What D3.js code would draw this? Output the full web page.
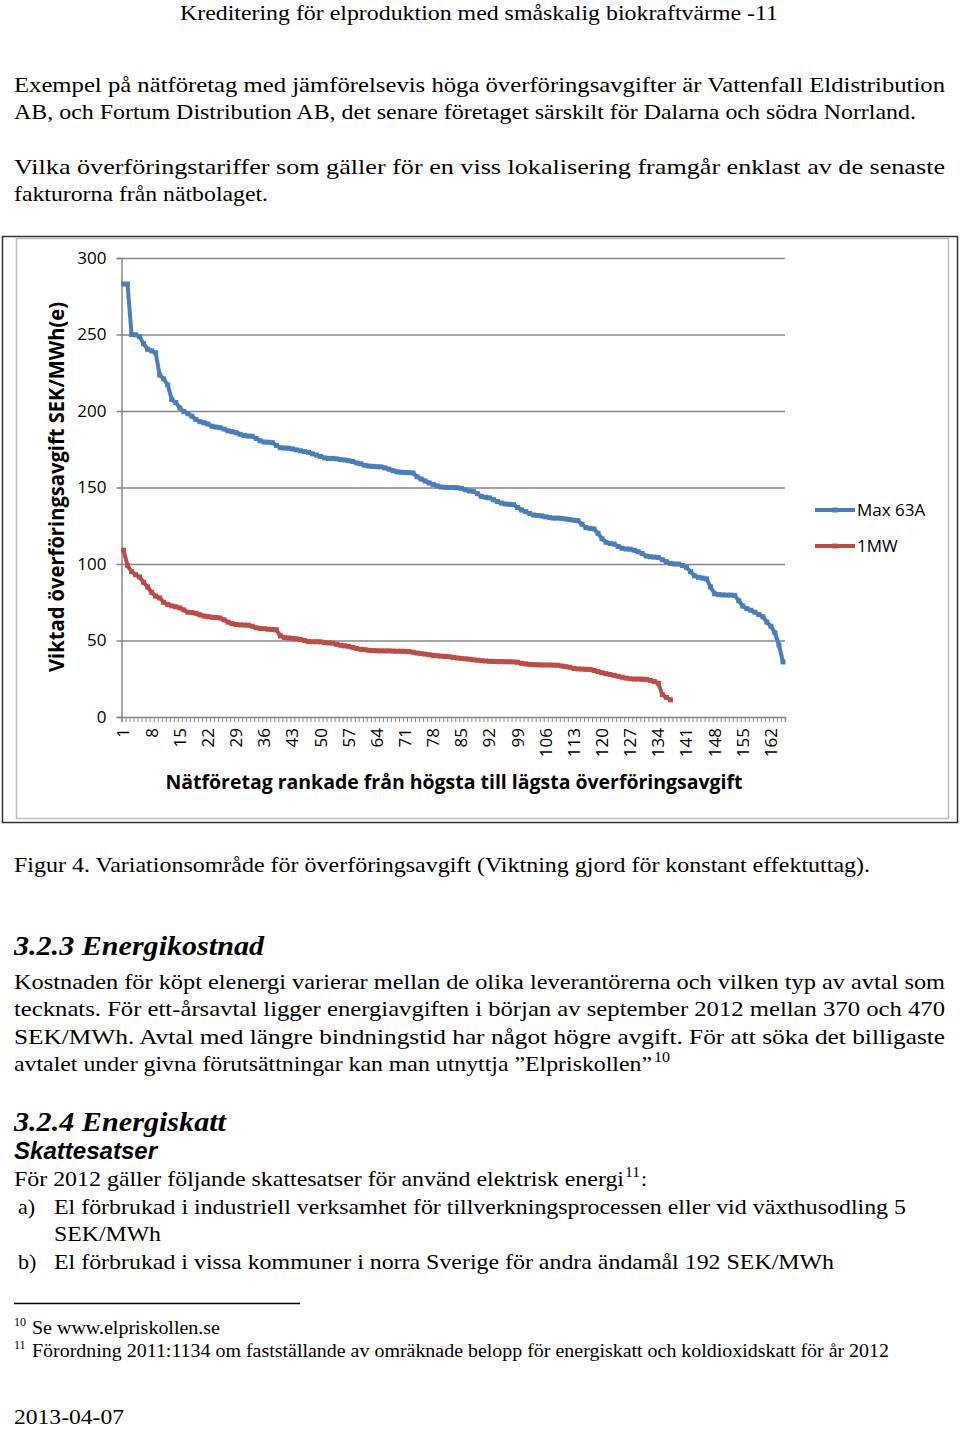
<!DOCTYPE html>
<html>
<head>
<meta charset="utf-8">
<script src="https://cdn.jsdelivr.net/npm/d3@7"></script>
<style>
  body { margin: 0; background: #fff; }
  svg { display: block; }
</style>
</head>
<body>
<svg id="page" width="960" height="1430"></svg>
<script>
// ranks of the grid companies (category axis)
const categories = d3.range(1, 166);
const xTickLabels = [1, 8, 15, 22, 29, 36, 43, 50, 57, 64, 71, 78, 85, 92, 99, 106, 113, 120, 127, 134, 141, 148, 155, 162];
const yTicks = [0, 50, 100, 150, 200, 250, 300];

// weighted transmission fee SEK/MWh(e)
const max63A = [
  283, 283, 250, 249.8, 248.5, 244, 240.3, 239.3, 238, 223.5,
  221, 217, 207.5, 205.5, 202, 199.7, 198.3, 196.6, 194.5, 193,
  192.3, 191.5, 190, 189.5, 189.1, 188.2, 187, 186.5, 185.8, 184.8,
  184, 183.6, 183.5, 182, 180.5, 179.7, 179.6, 179.3, 177.5, 176,
  175.8, 175.7, 175.2, 174.6, 174, 173.5, 173, 172, 171.2, 170.3,
  169.3, 169, 169, 168.7, 168.2, 168, 167.5, 167, 166, 165.5,
  164.5, 164, 163.8, 163.6, 163.5, 162.8, 162, 161, 160.3, 160,
  159.8, 159.7, 159.5, 157, 155.5, 154.3, 153, 152, 151, 150.3,
  150.1, 150, 150, 149.8, 149.5, 148.5, 147.8, 147.5, 146, 144.2,
  143.6, 143.2, 142, 140.8, 139.8, 139.2, 139, 138.8, 137, 135.3,
  134.2, 133, 132, 131.7, 131.4, 130.8, 130.3, 130, 130, 129.8,
  129.4, 129, 128.6, 128.3, 126, 123.8, 123.3, 122.9, 120, 116.5,
  114.2, 113.4, 113, 111.5, 110.3, 109.8, 109.7, 109, 108, 106.8,
  105.2, 104.7, 104.5, 104.2, 102.8, 101.5, 100.4, 100, 100, 99,
  97.8, 95, 92.3, 91.3, 90.8, 90.3, 85, 80.5, 80, 79.8,
  79.7, 79.7, 79.5, 76, 72.5, 70.8, 69.8, 68.5, 67, 65.5,
  62, 59.3, 55, 47, 36
];
const oneMW = [
  109, 99, 95, 93, 91.5, 88, 85, 81.5, 79, 77.8,
  75, 73.5, 72.6, 72, 71.3, 70, 68.5, 68.2, 67.8, 66.8,
  66, 65.6, 65.2, 65, 64.7, 63.5, 62, 61, 60.5, 60.2,
  60.1, 60, 59.3, 58.3, 57.9, 57.7, 57.4, 57.2, 57, 53,
  52, 51.7, 51.4, 51.1, 50.7, 50, 49.3, 49.2, 49.2, 49.1,
  48.6, 48.4, 48.3, 47.5, 46.9, 46.5, 46.2, 45.5, 44.8, 44.2,
  44, 43.6, 43.4, 43.3, 43.2, 43.2, 43.2, 43.1, 43, 43,
  42.9, 42.7, 42.3, 41.8, 41.4, 41.1, 40.7, 40.3, 40, 39.8,
  39.6, 39.4, 39, 38.6, 38.3, 38, 37.8, 37.4, 37.1, 36.8,
  36.6, 36.4, 36.3, 36.2, 36.2, 36.1, 36.1, 36, 35.8, 35.1,
  34.7, 34.4, 34.2, 34.1, 34, 34, 34, 33.9, 33.8, 33.3,
  32.9, 32.5, 31.7, 31.4, 31.3, 31.2, 31.1, 30.4, 29.6, 28.9,
  28.3, 27.8, 27.2, 26.6, 26, 25.4, 25, 24.8, 24.8, 24.7,
  24.6, 24, 23.2, 22, 14.6, 12.8, 11.2
];
const seriesNames = ["Max 63A", "1MW"];
const seriesColors = ["#4a7ebb", "#be4b48"];

const svg = d3.select("#page");
const serif = "'Liberation Serif', 'Times New Roman', Times, serif";
const sans = "'Open Sans', 'DejaVu Sans', sans-serif";

// ---------- page text ----------
function textLine(str, x, y, opts = {}) {
  const t = svg.append("text")
    .attr("x", x).attr("y", y)
    .style("font-family", opts.family || serif)
    .style("font-size", (opts.size || 22) + "px")
    .style("font-weight", opts.weight || "normal")
    .style("font-style", opts.style || "normal")
    .attr("text-anchor", opts.anchor || "start")
    .attr("fill", "#000")
    .text(str);
  if (opts.width) t.attr("textLength", opts.width).attr("lengthAdjust", "spacingAndGlyphs");
  return t;
}

textLine("Kreditering för elproduktion med småskalig biokraftvärme -11", 479, 20, { anchor: "middle", width: 598, size: 21 });

textLine("Exempel på nätföretag med jämförelsevis höga överföringsavgifter är Vattenfall Eldistribution", 14, 92, { width: 931 });
textLine("AB, och Fortum Distribution AB, det senare företaget särskilt för Dalarna och södra Norrland.", 14, 119, { width: 902 });
textLine("Vilka överföringstariffer som gäller för en viss lokalisering framgår enklast av de senaste", 14, 174, { width: 931 });
textLine("fakturorna från nätbolaget.", 14, 201, { width: 254 });

textLine("Figur 4. Variationsområde för överföringsavgift (Viktning gjord för konstant effektuttag).", 14, 872, { width: 856 });

textLine("3.2.3 Energikostnad", 14, 955, { size: 27, weight: "bold", style: "italic", width: 250 });
textLine("Kostnaden för köpt elenergi varierar mellan de olika leverantörerna och vilken typ av avtal som", 14, 989, { width: 931 });
textLine("tecknats. För ett-årsavtal ligger energiavgiften i början av september 2012 mellan 370 och 470", 14, 1016, { width: 931 });
textLine("SEK/MWh. Avtal med längre bindningstid har något högre avgift. För att söka det billigaste", 14, 1044, { width: 931 });
textLine("avtalet under givna förutsättningar kan man utnyttja ”Elpriskollen”", 14, 1071, { width: 638 });
textLine("10", 654, 1062, { size: 14, width: 16 });

textLine("3.2.4 Energiskatt", 14, 1131, { size: 27, weight: "bold", style: "italic", width: 212 });
textLine("Skattesatser", 14, 1159, { size: 23, weight: "bold", style: "italic", family: "'Liberation Sans', Arial, sans-serif", width: 143 });
textLine("För 2012 gäller följande skattesatser för använd elektrisk energi", 14, 1186, { width: 610 });
textLine("11", 625, 1177, { size: 14, width: 15 });
textLine(":", 641, 1186, {});
textLine("a)", 18, 1214, {});
textLine("El förbrukad i industriell verksamhet för tillverkningsprocessen eller vid växthusodling 5", 54, 1214, { width: 852 });
textLine("SEK/MWh", 54, 1241, { width: 107 });
textLine("b)", 18, 1269, {});
textLine("El förbrukad i vissa kommuner i norra Sverige för andra ändamål 192 SEK/MWh", 54, 1269, { width: 780 });

svg.append("line").attr("x1", 14).attr("x2", 300).attr("y1", 1303.5).attr("y2", 1303.5)
  .attr("stroke", "#000").attr("stroke-width", 1.3);
textLine("10", 14, 1326, { size: 12 });
textLine("Se www.elpriskollen.se", 32, 1334, { size: 18, width: 188 });
textLine("11", 14, 1349, { size: 12 });
textLine("Förordning 2011:1134 om fastställande av omräknade belopp för energiskatt och koldioxidskatt för år 2012", 32, 1357, { size: 18, width: 857 });

textLine("2013-04-07", 14, 1424, { width: 110 });

// ---------- chart ----------
svg.append("rect").attr("x", 2.5).attr("y", 236.5).attr("width", 955).attr("height", 586)
  .attr("fill", "#fff").attr("stroke", "#333").attr("stroke-width", 1.5);
svg.append("rect").attr("x", 16.5).attr("y", 238.5).attr("width", 932).attr("height", 580)
  .attr("fill", "none").attr("stroke", "#bdbdbd").attr("stroke-width", 1.5);

const plot = { left: 121.5, right: 785, top: 258, bottom: 717 };

const x = d3.scaleBand().domain(categories).range([plot.left, plot.right]).padding(0);
const xEdges = d3.scaleLinear().domain([0, categories.length]).range([plot.left, plot.right]);
const y = d3.scaleLinear().domain([0, 300]).range([plot.bottom, plot.top]);
const cx = d => x(d) + x.bandwidth() / 2;

const gridColor = "#878787";

// horizontal gridlines + y axis
const yAxis = svg.append("g")
  .attr("transform", `translate(${plot.left},0)`)
  .call(d3.axisLeft(y).tickValues(yTicks).tickSize(5).tickPadding(10));
yAxis.select(".domain").attr("stroke", gridColor).attr("stroke-width", 1.5);
yAxis.selectAll(".tick line").attr("stroke", gridColor).attr("stroke-width", 1.5);
yAxis.selectAll(".tick text")
  .attr("font-family", sans).attr("font-size", 17).attr("fill", "#000");
yAxis.selectAll(".tick").filter(d => d > 0).append("line")
  .attr("x1", 0).attr("x2", plot.right - plot.left)
  .attr("stroke", gridColor).attr("stroke-width", 1.5);

// category axis: minor tick at every category boundary
const xAxis = svg.append("g")
  .attr("transform", `translate(0,${plot.bottom})`)
  .call(d3.axisBottom(xEdges).tickValues(d3.range(0, categories.length + 1)).tickSize(5).tickFormat(""));
xAxis.select(".domain").attr("stroke", gridColor).attr("stroke-width", 1.5);
xAxis.selectAll(".tick line").attr("stroke", gridColor).attr("stroke-width", 1);

svg.append("g").selectAll("text")
  .data(xTickLabels)
  .join("text")
  .attr("transform", d => `translate(${cx(d)},${plot.bottom + 11}) rotate(-90)`)
  .attr("dy", "0.35em")
  .attr("text-anchor", "end")
  .attr("font-family", sans).attr("font-size", 17).attr("fill", "#000")
  .text(d => d);

// axis titles
svg.append("text")
  .attr("x", 454).attr("y", 789)
  .attr("text-anchor", "middle")
  .attr("font-family", sans).attr("font-size", 19).attr("font-weight", "bold")
  .attr("textLength", 577).attr("lengthAdjust", "spacingAndGlyphs")
  .text("Nätföretag rankade från högsta till lägsta överföringsavgift");

svg.append("text")
  .attr("transform", "translate(64,487) rotate(-90)")
  .attr("text-anchor", "middle")
  .attr("font-family", sans).attr("font-size", 21).attr("font-weight", "bold")
  .attr("textLength", 370).attr("lengthAdjust", "spacingAndGlyphs")
  .text("Viktad överföringsavgift SEK/MWh(e)");

// series
const series = [max63A, oneMW];
const line = d3.line()
  .x((d, i) => cx(categories[i]))
  .y(d => y(d));

series.forEach((values, s) => {
  const g = svg.append("g");
  g.append("path")
    .datum(values)
    .attr("fill", "none")
    .attr("stroke", seriesColors[s])
    .attr("stroke-width", 4)
    .attr("stroke-linejoin", "round")
    .attr("d", line);
  g.selectAll("rect")
    .data(values)
    .join("rect")
    .attr("x", (d, i) => cx(categories[i]) - 2.5)
    .attr("y", d => y(d) - 2.5)
    .attr("width", 5).attr("height", 5)
    .attr("fill", seriesColors[s]);
});

// legend
const legend = svg.append("g").attr("transform", "translate(815,510)");
seriesNames.forEach((name, i) => {
  const row = legend.append("g").attr("transform", `translate(0,${i * 36})`);
  row.append("line").attr("x1", 0).attr("x2", 40)
    .attr("stroke", seriesColors[i]).attr("stroke-width", 4);
  row.append("rect").attr("x", 17.5).attr("y", -2.5).attr("width", 5).attr("height", 5)
    .attr("fill", seriesColors[i]);
  row.append("text").attr("x", 42).attr("dy", "0.35em")
    .attr("font-family", sans).attr("font-size", 17).attr("fill", "#000")
    .text(name);
});
</script>
</body>
</html>
